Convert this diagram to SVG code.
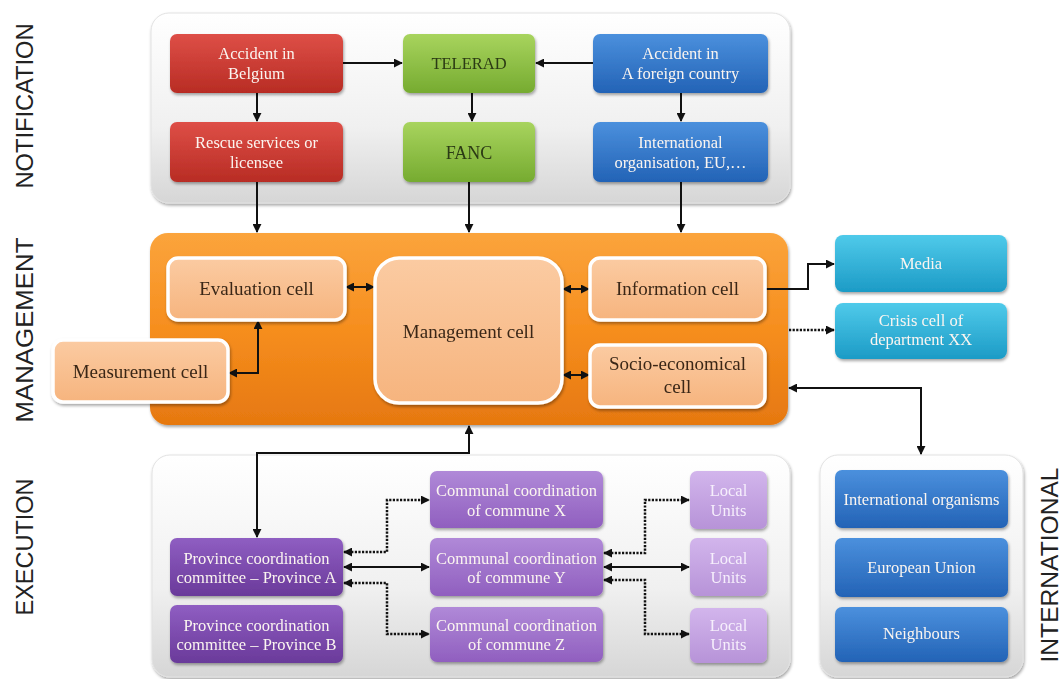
<svg xmlns="http://www.w3.org/2000/svg" width="1063" height="679" viewBox="0 0 1063 679">
<defs>
<linearGradient id="gPanel" x1="0" y1="0" x2="0" y2="1"><stop offset="0" stop-color="#ffffff"/><stop offset="0.6" stop-color="#f0f0f0"/><stop offset="1" stop-color="#d6d6d6"/></linearGradient>
<linearGradient id="gOrange" x1="0" y1="0" x2="0" y2="1"><stop offset="0" stop-color="#fba43c"/><stop offset="0.5" stop-color="#f68e1e"/><stop offset="1" stop-color="#e67810"/></linearGradient>
<linearGradient id="gCell" x1="0" y1="0" x2="0" y2="1"><stop offset="0" stop-color="#fbcba2"/><stop offset="1" stop-color="#f6b47e"/></linearGradient>
<linearGradient id="gRed" x1="0" y1="0" x2="0" y2="1"><stop offset="0" stop-color="#de4f47"/><stop offset="1" stop-color="#b82c24"/></linearGradient>
<linearGradient id="gGreen" x1="0" y1="0" x2="0" y2="1"><stop offset="0" stop-color="#a8d45e"/><stop offset="1" stop-color="#76ab30"/></linearGradient>
<linearGradient id="gBlue" x1="0" y1="0" x2="0" y2="1"><stop offset="0" stop-color="#4b90dd"/><stop offset="1" stop-color="#2363b6"/></linearGradient>
<linearGradient id="gCyan" x1="0" y1="0" x2="0" y2="1"><stop offset="0" stop-color="#4fcaea"/><stop offset="1" stop-color="#1c9bc6"/></linearGradient>
<linearGradient id="gPurple" x1="0" y1="0" x2="0" y2="1"><stop offset="0" stop-color="#8f5ec2"/><stop offset="1" stop-color="#6a3a9a"/></linearGradient>
<linearGradient id="gComm" x1="0" y1="0" x2="0" y2="1"><stop offset="0" stop-color="#b089d8"/><stop offset="1" stop-color="#905fbf"/></linearGradient>
<linearGradient id="gLocal" x1="0" y1="0" x2="0" y2="1"><stop offset="0" stop-color="#d2b5ec"/><stop offset="1" stop-color="#b793d8"/></linearGradient>
<filter id="sh" x="-10%" y="-10%" width="125%" height="130%"><feDropShadow dx="1" dy="2" stdDeviation="1.8" flood-color="#000" flood-opacity="0.35"/></filter>
<marker id="ah" viewBox="0 0 10 10" refX="9" refY="5" markerWidth="9" markerHeight="9" markerUnits="userSpaceOnUse" orient="auto-start-reverse"><path d="M0,0 L10,5 L0,10 z" fill="#111"/></marker>
<style>
.panel{fill:url(#gPanel);stroke:#e2e2e2;stroke-width:1;filter:url(#sh)}
.node{filter:url(#sh)}
.red{fill:url(#gRed)}.green{fill:url(#gGreen)}.blue{fill:url(#gBlue)}.cyan{fill:url(#gCyan)}
.purple{fill:url(#gPurple)}.comm{fill:url(#gComm)}.local{fill:url(#gLocal)}
.cell{fill:url(#gCell);stroke:#ffffff;stroke-width:3.5}
.t{font-family:"Liberation Serif","Times New Roman",serif;font-size:16.5px;text-anchor:middle}
.w{fill:#fbf5f0}.dk{fill:#2c3a14}.br{fill:#3a2818}.lp{fill:#f6effc}
.big{font-size:19px}
.lab{font-family:"Liberation Sans",Arial,sans-serif;font-size:23px;fill:#222;text-anchor:middle}
.c{fill:none;stroke:#111;stroke-width:2}
.d{fill:none;stroke:#111;stroke-width:2.5;stroke-dasharray:2.2 1.4}
</style>
</defs>
<rect width="1063" height="679" fill="#ffffff"/>

<!-- side labels -->
<text class="lab" transform="translate(33,106) rotate(-90)" textLength="165" lengthAdjust="spacingAndGlyphs">NOTIFICATION</text>
<text class="lab" transform="translate(33,330) rotate(-90)" textLength="185" lengthAdjust="spacingAndGlyphs">MANAGEMENT</text>
<text class="lab" transform="translate(33,547) rotate(-90)" textLength="137" lengthAdjust="spacingAndGlyphs">EXECUTION</text>
<text class="lab" transform="translate(1058,565) rotate(-90)" textLength="195" lengthAdjust="spacingAndGlyphs">INTERNATIONAL</text>

<!-- panels -->
<g id="panel-notification"><rect class="panel" x="151" y="13" width="639" height="190" rx="18"/></g>
<g id="panel-management"><rect x="150" y="233" width="638" height="192" rx="18" fill="url(#gOrange)" filter="url(#sh)"/></g>
<g id="panel-execution"><rect class="panel" x="152" y="455" width="638" height="222" rx="18"/></g>
<g id="panel-international"><rect class="panel" x="820" y="455" width="203" height="222" rx="18"/></g>

<!-- connectors -->
<g id="connectors">
<path class="c" d="M343,63 H402" marker-end="url(#ah)"/>
<path class="c" d="M593,63 H536" marker-end="url(#ah)"/>
<path class="c" d="M257,93 V121" marker-end="url(#ah)"/>
<path class="c" d="M472,93 V121" marker-end="url(#ah)"/>
<path class="c" d="M681,93 V121" marker-end="url(#ah)"/>
<path class="c" d="M257,182 V232" marker-end="url(#ah)"/>
<path class="c" d="M469,182 V232" marker-end="url(#ah)"/>
<path class="c" d="M681,182 V232" marker-end="url(#ah)"/>
<path class="c" d="M346,287 H374" marker-start="url(#ah)" marker-end="url(#ah)"/>
<path class="c" d="M563,289 H589" marker-start="url(#ah)" marker-end="url(#ah)"/>
<path class="c" d="M563,375 H589" marker-start="url(#ah)" marker-end="url(#ah)"/>
<path class="c" d="M258,321 V373 H229" marker-start="url(#ah)" marker-end="url(#ah)"/>
<path class="c" d="M766,289 H808 V264 H834" marker-end="url(#ah)"/>
<path class="d" d="M789,330 H834" marker-end="url(#ah)"/>
<path class="c" d="M921,454 V388 H789" marker-start="url(#ah)" marker-end="url(#ah)"/>
<path class="c" d="M469,426 V453 H257 V537" marker-start="url(#ah)" marker-end="url(#ah)"/>
<path class="d" d="M344,552 H387 V500 H429" marker-start="url(#ah)" marker-end="url(#ah)"/>
<path class="c" d="M344,567 H429" marker-start="url(#ah)" marker-end="url(#ah)"/>
<path class="d" d="M344,583 H387 V634 H429" marker-start="url(#ah)" marker-end="url(#ah)"/>
<path class="d" d="M604,553 H645 V500 H689" marker-start="url(#ah)" marker-end="url(#ah)"/>
<path class="c" d="M604,567 H689" marker-start="url(#ah)" marker-end="url(#ah)"/>
<path class="d" d="M604,580 H645 V634 H689" marker-start="url(#ah)" marker-end="url(#ah)"/>
</g>

<!-- notification nodes -->
<g id="accident-belgium" class="node"><rect class="red" x="170" y="34" width="173" height="59" rx="7"/><text class="t w" x="256.5" y="59">Accident in</text><text class="t w" x="256.5" y="79">Belgium</text></g>
<g id="rescue" class="node"><rect class="red" x="170" y="122" width="173" height="60" rx="7"/><text class="t w" x="256.5" y="148">Rescue services or</text><text class="t w" x="256.5" y="168">licensee</text></g>
<g id="telerad" class="node"><rect class="green" x="403" y="34" width="132" height="59" rx="7"/><text class="t dk" x="469" y="69" font-size="16">TELERAD</text></g>
<g id="fanc" class="node"><rect class="green" x="403" y="122" width="132" height="60" rx="7"/><text class="t dk" x="469" y="159" style="font-size:18px">FANC</text></g>
<g id="accident-foreign" class="node"><rect class="blue" x="593" y="34" width="175" height="59" rx="7"/><text class="t w" x="680.5" y="59">Accident in</text><text class="t w" x="680.5" y="79">A foreign country</text></g>
<g id="intl-org" class="node"><rect class="blue" x="593" y="122" width="175" height="60" rx="7"/><text class="t w" x="680.5" y="148">International</text><text class="t w" x="680.5" y="168">organisation, EU,…</text></g>

<!-- management nodes -->
<g id="evaluation-cell" class="node"><rect class="cell" x="168" y="258" width="177" height="62" rx="10"/><text class="t br big" x="256.5" y="295">Evaluation cell</text></g>
<g id="measurement-cell" class="node"><rect class="cell" x="53" y="340" width="175" height="62" rx="10"/><text class="t br big" x="140.5" y="378">Measurement cell</text></g>
<g id="management-cell" class="node"><rect class="cell" x="375" y="258" width="187" height="145" rx="24"/><text class="t br big" x="468.5" y="338">Management cell</text></g>
<g id="information-cell" class="node"><rect class="cell" x="590" y="258" width="175" height="62" rx="10"/><text class="t br big" x="677.5" y="295">Information cell</text></g>
<g id="socio-cell" class="node"><rect class="cell" x="590" y="345" width="175" height="62" rx="10"/><text class="t br big" x="677.5" y="370">Socio-economical</text><text class="t br big" x="677.5" y="393">cell</text></g>
<g id="media" class="node"><rect class="cyan" x="835" y="235" width="172" height="57" rx="8"/><text class="t w" x="921" y="269">Media</text></g>
<g id="crisis-cell" class="node"><rect class="cyan" x="835" y="303" width="172" height="56" rx="8"/><text class="t w" x="921" y="326">Crisis cell of</text><text class="t w" x="921" y="345">department XX</text></g>

<!-- execution nodes -->
<g id="province-a" class="node"><rect class="purple" x="170" y="538" width="173" height="58" rx="7"/><text class="t w" x="256.5" y="564">Province coordination</text><text class="t w" x="256.5" y="583">committee – Province A</text></g>
<g id="province-b" class="node"><rect class="purple" x="170" y="605" width="173" height="58" rx="7"/><text class="t w" x="256.5" y="631">Province coordination</text><text class="t w" x="256.5" y="650">committee – Province B</text></g>
<g id="commune-x" class="node"><rect class="comm" x="430" y="471" width="173" height="57" rx="7"/><text class="t w" x="516.5" y="496">Communal coordination</text><text class="t w" x="516.5" y="516">of commune X</text></g>
<g id="commune-y" class="node"><rect class="comm" x="430" y="538" width="173" height="58" rx="7"/><text class="t w" x="516.5" y="564">Communal coordination</text><text class="t w" x="516.5" y="583">of commune Y</text></g>
<g id="commune-z" class="node"><rect class="comm" x="430" y="607" width="173" height="55" rx="7"/><text class="t w" x="516.5" y="631">Communal coordination</text><text class="t w" x="516.5" y="650">of commune Z</text></g>
<g id="local-1" class="node"><rect class="local" x="690" y="471" width="77" height="58" rx="7"/><text class="t lp" x="728.5" y="496">Local</text><text class="t lp" x="728.5" y="516">Units</text></g>
<g id="local-2" class="node"><rect class="local" x="690" y="538" width="77" height="58" rx="7"/><text class="t lp" x="728.5" y="564">Local</text><text class="t lp" x="728.5" y="583">Units</text></g>
<g id="local-3" class="node"><rect class="local" x="690" y="608" width="77" height="55" rx="7"/><text class="t lp" x="728.5" y="631">Local</text><text class="t lp" x="728.5" y="650">Units</text></g>

<!-- international nodes -->
<g id="intl-organisms" class="node"><rect class="blue" x="835" y="470" width="173" height="58" rx="7"/><text class="t w" x="921.5" y="505">International organisms</text></g>
<g id="eu" class="node"><rect class="blue" x="835" y="538" width="173" height="59" rx="7"/><text class="t w" x="921.5" y="573">European Union</text></g>
<g id="neighbours" class="node"><rect class="blue" x="835" y="607" width="173" height="55" rx="7"/><text class="t w" x="921.5" y="639">Neighbours</text></g>
</svg>
